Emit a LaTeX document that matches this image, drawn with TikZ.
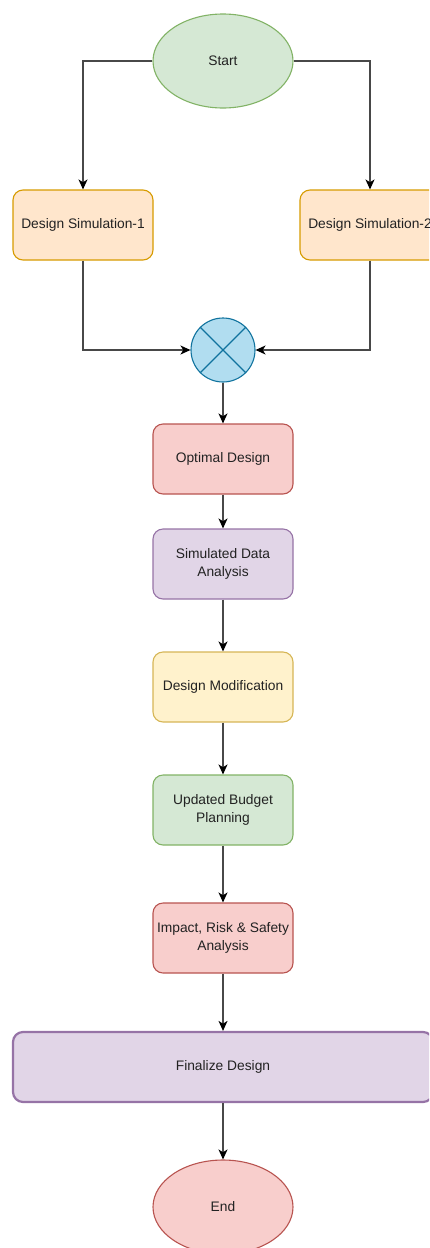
\documentclass[tikz,border=0pt]{standalone}
\usepackage{fontspec}
\setmainfont{Liberation Sans}
\usetikzlibrary{arrows.meta,shapes.geometric}
\definecolor{grF}{HTML}{D5E8D4}\definecolor{grS}{HTML}{82B366}
\definecolor{orF}{HTML}{FFE6CC}\definecolor{orS}{HTML}{D79B00}
\definecolor{blF}{HTML}{B1DDF0}\definecolor{blS}{HTML}{10739E}
\definecolor{reF}{HTML}{F8CECC}\definecolor{reS}{HTML}{B85450}
\definecolor{puF}{HTML}{E1D5E7}\definecolor{puS}{HTML}{9673A6}
\definecolor{yeF}{HTML}{FFF2CC}\definecolor{yeS}{HTML}{D6B656}
\definecolor{txt}{HTML}{222222}
\definecolor{edge}{HTML}{484848}
\tikzset{
  base/.style={line width=1.1pt, align=center, text=txt, inner sep=2pt,
    font=\fontsize{13.8}{18.5}\selectfont},
  box/.style={base, rectangle, rounded corners=10pt, minimum width=140pt, minimum height=70pt},
  oval/.style={base, ellipse, minimum width=140pt, minimum height=94pt},
  arr/.style={draw=edge, line width=1.3pt, -{Stealth[length=10pt,width=9pt,inset=2.8pt,color=black]}},
}
\begin{document}
\begin{tikzpicture}[x=1pt,y=-1pt]
\useasboundingbox (0,0) rectangle (429,1248);
\clip (0,0) rectangle (429,1248);
\node[oval, fill=grF, draw=grS] (start) at (223,61) {Start};
\node[box, fill=orF, draw=orS] (ds1) at (83,225) {Design Simulation-1};
\node[box, fill=orF, draw=orS] (ds2) at (370,225) {Design Simulation-2};
\node[base, circle, fill=blF, draw=blS, minimum size=64pt] (x) at (223,350) {};
\draw[blS, line width=1.1pt] (x.north west) -- (x.south east) (x.north east) -- (x.south west);
\node[box, fill=reF, draw=reS] (opt) at (223,459) {Optimal Design};
\node[box, fill=puF, draw=puS] (sda) at (223,564) {Simulated Data\\Analysis};
\node[box, fill=yeF, draw=yeS] (dm) at (223,687) {Design Modification};
\node[box, fill=grF, draw=grS] (ubp) at (223,810) {Updated Budget\\Planning};
\node[box, fill=reF, draw=reS] (irs) at (223,938) {Impact, Risk \& Safety\\Analysis};
\node[box, fill=puF, draw=puS, line width=2.2pt, minimum width=420pt] (fin) at (223,1067) {Finalize Design};
\node[oval, fill=reF, draw=reS] (end) at (223,1207) {End};
\draw[arr] (start.west) -| (ds1.north);
\draw[arr] (start.east) -| (ds2.north);
\draw[arr] (ds1.south) |- (x.west);
\draw[arr] (ds2.south) |- (x.east);
\draw[arr] (x.south) -- (opt.north);
\draw[arr] (opt.south) -- (sda.north);
\draw[arr] (sda.south) -- (dm.north);
\draw[arr] (dm.south) -- (ubp.north);
\draw[arr] (ubp.south) -- (irs.north);
\draw[arr] (irs.south) -- (fin.north);
\draw[arr] (fin.south) -- (end.north);
\end{tikzpicture}
\end{document}
